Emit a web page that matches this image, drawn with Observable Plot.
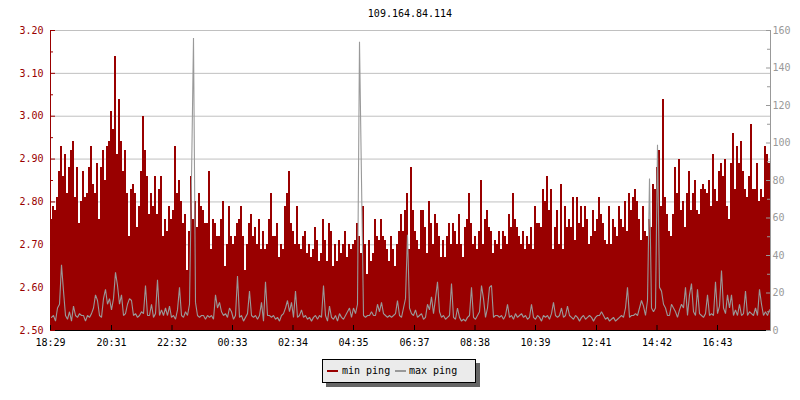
<!DOCTYPE html>
<html>
<head>
<meta charset="utf-8">
<script src="https://cdn.jsdelivr.net/npm/d3@7"></script>
<script src="https://cdn.jsdelivr.net/npm/@observablehq/plot@0.6"></script>
<style>
  html, body { margin: 0; padding: 0; background: #fff; }
  #wrap { position: relative; width: 800px; height: 400px; font-family: "DejaVu Sans Mono", monospace; font-size: 10px; }
  #title { position: absolute; left: 50px; width: 720px; top: 8px; line-height: 12px; text-align: center; color: #000; }
  #chart { position: absolute; left: 0; top: 0; }
  #legend { position: absolute; left: 322px; top: 359px; width: 152px; height: 22px; background: #ebebeb; border: 1px solid #000; box-shadow: 4px 4px 0 #666; }
  #legend .sw { position: absolute; top: 10px; width: 11px; height: 2px; }
  #legend .lb { position: absolute; top: 5px; line-height: 12px; color: #000; white-space: pre; }
</style>
</head>
<body>
<div id="wrap">
  <div id="chart"></div>
  <div id="title"></div>
  <div id="legend"></div>
</div>
<script>
// ---- data ----
const title = "109.164.84.114";
const seriesNames = ["min ping", "max ping"];
const xTickLabels = ["18:29","20:31","22:32","00:33","02:34","04:35","06:37","08:38","10:39","12:41","14:42","16:43"];
const startLabel = "18:29";
const spanMinutes = 1440;
const leftTicks = [2.50, 2.60, 2.70, 2.80, 2.90, 3.00, 3.10, 3.20];
const leftMinorTicks = [2.55, 2.65, 2.75, 2.85, 2.95, 3.05, 3.15];
const rightTicks = [0, 20, 40, 60, 80, 100, 120, 140, 160];
const rightMinorTicks = [10, 30, 50, 70, 90, 110, 130, 150];

// min ping (left axis), one value per sample
const minPing = [
  2.76,2.79,2.78,2.81,2.87,2.93,2.86,2.91,2.82,2.88, 2.92,2.94,2.81,2.88,2.75,2.80,2.87,2.81,2.82,2.88,
  2.93,2.84,2.82,2.89,2.76,2.88,2.92,2.85,2.93,2.94, 3.01,2.97,3.14,2.91,3.04,2.94,2.87,2.92,2.82,2.72,
  2.83,2.84,2.82,2.74,2.79,2.87,3.00,2.92,2.86,2.77, 2.82,2.79,2.86,2.77,2.83,2.86,2.72,2.76,2.73,2.79,
  2.76,2.78,2.93,2.82,2.85,2.80,2.75,2.77,2.64,2.73, 2.86,2.76,2.80,2.74,2.82,2.79,2.78,2.75,2.75,2.87,
  2.69,2.76,2.75,2.72,2.72,2.76,2.80,2.65,2.70,2.79, 2.72,2.70,2.72,2.75,2.76,2.79,2.72,2.64,2.70,2.75,
  2.77,2.72,2.74,2.70,2.76,2.69,2.73,2.69,2.70,2.76, 2.82,2.72,2.72,2.75,2.67,2.70,2.69,2.79,2.82,2.87,
  2.75,2.73,2.70,2.79,2.70,2.69,2.72,2.73,2.68,2.70, 2.67,2.69,2.74,2.71,2.66,2.68,2.76,2.71,2.66,2.75,
  2.73,2.65,2.70,2.66,2.71,2.68,2.70,2.73,2.67,2.70, 2.69,2.70,2.71,2.75,2.72,2.68,2.79,2.70,2.63,2.71,
  2.66,2.68,2.76,2.72,2.71,2.76,2.72,2.71,2.69,2.66, 2.72,2.69,2.65,2.70,2.73,2.77,2.73,2.78,2.82,2.69,
  2.88,2.78,2.73,2.71,2.69,2.78,2.78,2.74,2.68,2.80, 2.75,2.70,2.77,2.75,2.72,2.67,2.71,2.67,2.72,2.75,
  2.70,2.75,2.73,2.70,2.77,2.70,2.67,2.74,2.76,2.82, 2.75,2.70,2.72,2.69,2.73,2.85,2.70,2.76,2.78,2.74,
  2.73,2.68,2.71,2.70,2.73,2.69,2.73,2.72,2.70,2.77, 2.74,2.82,2.76,2.74,2.72,2.70,2.73,2.69,2.72,2.70,
  2.74,2.69,2.79,2.75,2.75,2.74,2.83,2.80,2.86,2.78, 2.83,2.69,2.74,2.78,2.70,2.84,2.69,2.79,2.74,2.76,
  2.74,2.81,2.71,2.81,2.75,2.79,2.74,2.79,2.76,2.70, 2.72,2.78,2.73,2.76,2.81,2.77,2.75,2.71,2.70,2.79,
  2.70,2.76,2.74,2.72,2.79,2.76,2.74,2.80,2.73,2.82, 2.78,2.81,2.83,2.80,2.76,2.71,2.79,2.73,2.72,2.76,
  2.74,2.84,2.83,2.88,2.92,2.79,3.04,2.81,2.77,2.73, 2.72,2.77,2.88,2.82,2.90,2.78,2.80,2.74,2.82,2.87,
  2.78,2.82,2.85,2.78,2.77,2.83,2.84,2.83,2.82,2.85, 2.79,2.91,2.83,2.80,2.87,2.89,2.86,2.90,2.79,2.76,
  2.89,2.96,2.83,2.93,2.89,2.94,2.87,2.83,2.81,2.86, 2.98,2.83,2.83,2.89,2.80,2.83,2.81,2.93,2.91,2.89
];

// max ping (right axis), one value per sample
const maxPing = [
  7,8,5,12,14,35,21,8,6,10, 5,13,8,7,9,8,8,5,8,7,
  9,12,19,16,8,7,17,22,14,17, 11,17,31,24,14,19,8,9,14,17,
  16,8,9,7,8,10,9,24,8,8, 14,7,9,27,8,11,8,12,8,13,
  7,8,6,11,23,8,7,10,8,14, 81,156,15,8,7,8,8,6,8,7,
  8,6,19,12,15,10,8,9,7,12, 10,6,8,29,7,8,5,7,9,21,
  8,7,8,6,8,15,5,26,8,8, 7,8,6,7,5,8,9,12,16,10,
  15,7,21,7,8,11,7,8,6,7, 5,7,8,6,8,7,24,8,5,13,
  7,6,8,5,9,7,6,8,10,12, 7,12,9,14,154,80,8,7,8,8,
  10,8,8,14,10,15,9,8,7,8, 7,8,9,16,8,7,12,17,51,12,
  9,8,11,7,8,9,6,7,14,11, 18,9,17,26,10,7,8,6,7,8,
  25,7,6,12,7,5,6,5,7,8, 23,7,6,8,10,24,17,7,12,23,
  24,7,8,8,7,8,6,8,14,7, 8,6,9,7,8,9,7,8,6,7,
  14,7,6,8,7,5,8,7,8,6, 9,15,8,7,8,12,7,8,13,8,
  7,6,8,7,5,7,8,6,7,8, 7,5,7,8,8,10,8,6,7,5,
  6,7,5,6,7,8,7,12,23,7, 8,8,9,8,12,16,13,8,16,81,
  12,10,12,99,23,21,14,12,8,8, 14,12,10,7,11,14,12,23,8,19,
  25,10,8,22,9,8,7,9,19,8, 9,8,26,9,13,32,12,9,19,12,
  19,8,11,8,14,8,9,21,8,10, 9,8,12,8,22,14,8,10,8,11
];

// ---- styles ----
const RED = "#990000";
const GRAY = "#999999";
const GRID = "#c0c0c0";

// ---- derived ----
const yLo = leftTicks[0], yHi = leftTicks[leftTicks.length - 1];
const rHi = rightTicks[rightTicks.length - 1];
const toLeft = v => yLo + v * (yHi - yLo) / rHi;
const fromLeft = y => Math.round((y - yLo) * rHi / (yHi - yLo));
const toMin = s => { const [h, m] = s.split(":").map(Number); return h * 60 + m; };
const t0 = toMin(startLabel);
const xTicks = xTickLabels.map(s => (toMin(s) - t0 + 1440) % 1440);
const labelByTick = new Map(xTicks.map((t, i) => [t, xTickLabels[i]]));
const step = spanMinutes / minPing.length;

const table = minPing.map((v, i) => ({t: i * step, min: v, max: toLeft(maxPing[i])}));
const areaTable = table.concat([{t: spanMinutes, min: minPing[minPing.length - 1]}]);
const lineTable = table.map(d => ({t: d.t + step / 2, max: d.max}));

const chart = Plot.plot({
  width: 800,
  height: 350,
  marginTop: 30,
  marginBottom: 20,
  marginLeft: 50,
  marginRight: 30,
  x: {domain: [0, spanMinutes]},
  y: {domain: [yLo, yHi]},
  style: {fontFamily: "'DejaVu Sans Mono', monospace", fontSize: "10px", background: "white", color: "#000"},
  marks: [
    Plot.ruleY(leftTicks, {stroke: GRID, strokeWidth: 1}),
    Plot.areaY(areaTable, {x: "t", y1: yLo, y2: "min", curve: "step-after", fill: RED, shapeRendering: "crispEdges"}),
    Plot.line(lineTable, {x: "t", y: "max", curve: "linear", stroke: GRAY, strokeWidth: 1.1, strokeLinejoin: "miter", strokeMiterlimit: 1}),
    Plot.ruleX([0], {stroke: RED}),
    Plot.ruleX([spanMinutes], {stroke: GRAY}),
    Plot.ruleY([yLo], {stroke: "#000"}),
    Plot.axisY(leftTicks, {anchor: "left", tickSize: -5, tickPadding: 12, tickFormat: d3.format(".2f"), color: RED, label: null}),
    Plot.axisY(leftMinorTicks, {anchor: "left", tickSize: -3, tickPadding: 12, tickFormat: () => "", color: RED, label: null}),
    Plot.axisY(rightTicks.map(toLeft), {anchor: "right", tickSize: -5, tickPadding: 7, tickFormat: d => String(fromLeft(d)), color: GRAY, label: null}),
    Plot.axisY(rightMinorTicks.map(toLeft), {anchor: "right", tickSize: -4, tickPadding: 7, tickFormat: () => "", color: GRAY, label: null}),
    Plot.axisX(xTicks, {anchor: "bottom", tickSize: -5, tickPadding: 13, tickFormat: d => labelByTick.get(d), color: "#000", label: null})
  ]
});
document.getElementById("chart").appendChild(chart);
document.getElementById("title").textContent = title;

// legend
const legend = document.getElementById("legend");
const colors = [RED, GRAY];
const swLeft = [4, 72], lbLeft = [19, 86];
seriesNames.forEach((name, i) => {
  const sw = document.createElement("div");
  sw.className = "sw";
  sw.style.left = swLeft[i] + "px";
  sw.style.background = colors[i];
  legend.appendChild(sw);
  const lb = document.createElement("div");
  lb.className = "lb";
  lb.style.left = lbLeft[i] + "px";
  lb.textContent = name;
  legend.appendChild(lb);
});
</script>
</body>
</html>
